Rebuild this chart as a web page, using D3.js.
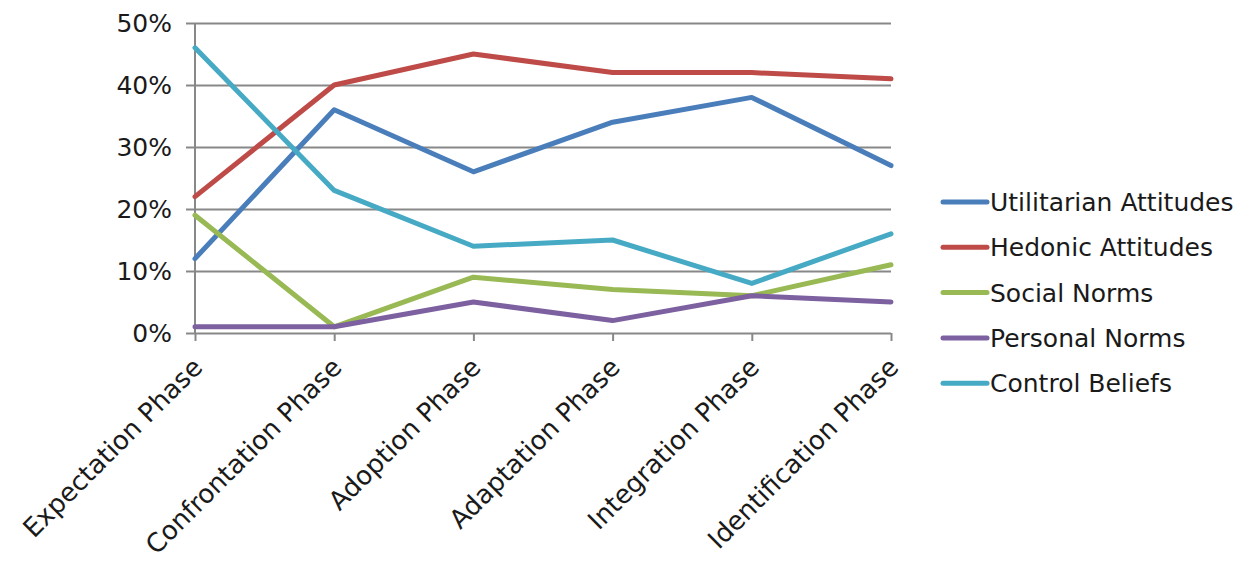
<!DOCTYPE html>
<html>
<head>
<meta charset="utf-8">
<script src="https://cdn.jsdelivr.net/npm/d3@7"></script>
<style>
  body { margin: 0; background: #fff; }
  text { font-family: "DejaVu Sans", sans-serif; fill: #1a1a1a; }
</style>
</head>
<body>
<div id="chart"></div>
<script>
const phases = ["Expectation Phase", "Confrontation Phase", "Adoption Phase", "Adaptation Phase", "Integration Phase", "Identification Phase"];
const seriesNames = ["Utilitarian Attitudes", "Hedonic Attitudes", "Social Norms", "Personal Norms", "Control Beliefs"];
const utilitarian = [0.12, 0.36, 0.26, 0.34, 0.38, 0.27];
const hedonic = [0.22, 0.40, 0.45, 0.42, 0.42, 0.41];
const socialNorms = [0.19, 0.01, 0.09, 0.07, 0.06, 0.11];
const personalNorms = [0.01, 0.01, 0.05, 0.02, 0.06, 0.05];
const controlBeliefs = [0.46, 0.23, 0.14, 0.15, 0.08, 0.16];
const yTicks = [0, 0.1, 0.2, 0.3, 0.4, 0.5];
const colors = ["#4a7ebb", "#be4b48", "#98b954", "#7d60a0", "#46aac5"];

const allSeries = [utilitarian, hedonic, socialNorms, personalNorms, controlBeliefs];

const width = 1250, height = 565;
const margin = { top: 23, right: 359, bottom: 232, left: 195 };

const svg = d3.select("#chart").append("svg")
    .attr("width", width)
    .attr("height", height);

svg.append("rect").attr("width", width).attr("height", height).attr("fill", "#fff");

const x = d3.scalePoint()
    .domain(phases)
    .range([margin.left, width - margin.right]);

const y = d3.scaleLinear()
    .domain([0, 0.5])
    .range([height - margin.bottom, margin.top]);

// gridlines
svg.append("g")
    .attr("transform", `translate(${margin.left},0)`)
    .call(d3.axisLeft(y).tickValues(yTicks).tickSize(-(width - margin.right - margin.left)).tickFormat(""))
    .call(g => g.select(".domain").remove())
    .call(g => g.selectAll("line").attr("stroke", "#888").attr("stroke-width", 2));

// y axis with short ticks + labels
svg.append("g")
    .attr("transform", `translate(${margin.left},0)`)
    .call(d3.axisLeft(y).tickValues(yTicks).tickSize(9).tickPadding(14).tickFormat(d3.format(".0%")))
    .call(g => g.select(".domain").attr("stroke", "#888").attr("stroke-width", 2).attr("d", `M0,${margin.top}V${height - margin.bottom}`))
    .call(g => g.selectAll("line").attr("stroke", "#888").attr("stroke-width", 2))
    .call(g => g.selectAll("text").style("font-size", "25px").attr("fill", "#1a1a1a"));

// x axis ticks
svg.append("g")
    .attr("transform", `translate(0,${height - margin.bottom})`)
    .call(d3.axisBottom(x).tickSize(8).tickFormat(""))
    .call(g => g.select(".domain").remove())
    .call(g => g.selectAll("line").attr("stroke", "#888").attr("stroke-width", 2));

// rotated category labels
svg.append("g").selectAll("text")
    .data(phases)
    .join("text")
    .attr("transform", d => `translate(${x(d) + 9},${height - margin.bottom + 36}) rotate(-45)`)
    .attr("text-anchor", "end")
    .style("font-size", "26px")
    .text(d => d);

// lines
const line = d3.line()
    .x((d, i) => x(phases[i]))
    .y(d => y(d));

svg.append("g").selectAll("path")
    .data(allSeries)
    .join("path")
    .attr("fill", "none")
    .attr("stroke", (d, i) => colors[i])
    .attr("stroke-width", 5)
    .attr("stroke-linejoin", "round")
    .attr("stroke-linecap", "round")
    .attr("d", line);

// legend
const legend = svg.append("g").attr("transform", "translate(943,202)");
seriesNames.forEach((name, i) => {
    legend.append("line")
        .attr("x1", 0).attr("x2", 44)
        .attr("y1", i * 45.3).attr("y2", i * 45.3)
        .attr("stroke", colors[i]).attr("stroke-width", 5).attr("stroke-linecap", "round");
    legend.append("text")
        .attr("x", 47).attr("y", i * 45.3)
        .attr("dy", "0.36em")
        .style("font-size", "25px")
        .text(name);
});
</script>
</body>
</html>
